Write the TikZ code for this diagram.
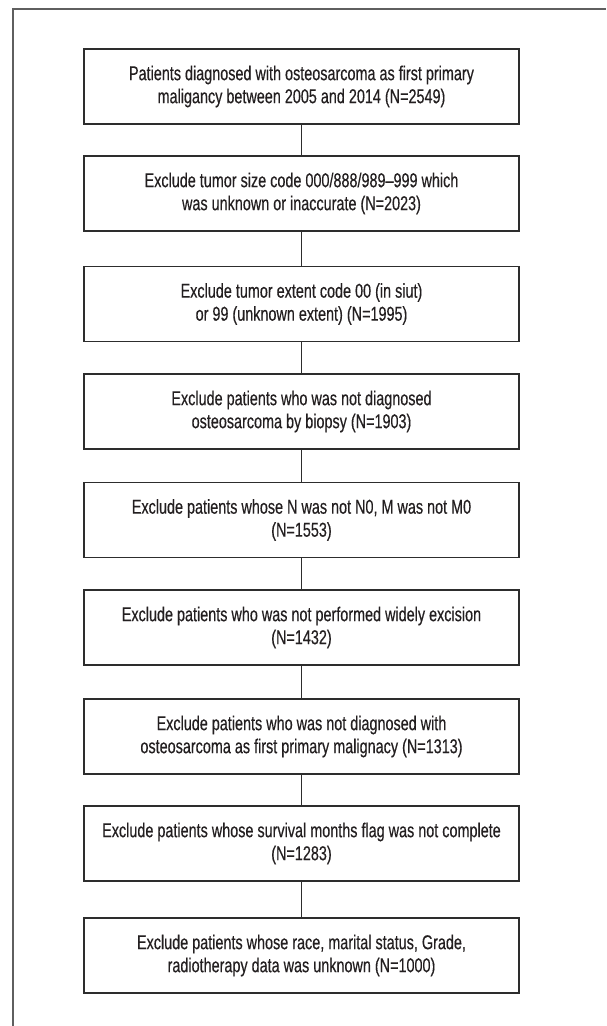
\documentclass[tikz,border=0pt]{standalone}
\usepackage{fontspec}
\setmainfont[FakeStretch=0.72,BoldFont={Liberation Sans},BoldFeatures={FakeBold=0.4}]{Liberation Sans}
\definecolor{framegray}{RGB}{95,95,95}
\definecolor{boxgray}{RGB}{45,45,45}
\definecolor{textgray}{RGB}{35,31,32}
\begin{document}
\begin{tikzpicture}[x=1pt,y=-1pt,
  stagebox/.style={draw=boxgray,line width=1.3pt,minimum width=435pt,minimum height=75pt,
    align=center,text=textgray,font=\fontsize{20}{23}\selectfont\bfseries,inner sep=0pt},
  link/.style={draw=boxgray,line width=1.1pt}]
\useasboundingbox (0,0) rectangle (606,1026);
\draw[framegray,line width=1.5pt](13,1026)--(13,9)--(606,9);

\node[stagebox] (s1) at (301.5,86.5){Patients diagnosed with osteosarcoma as first primary\\maligancy between 2005 and 2014 (N=2549)};
\node[stagebox] (s2) at (301.5,193.5){Exclude tumor size code 000/888/989--999 which\\was unknown or inaccurate (N=2023)};
\node[stagebox] (s3) at (301.5,304){Exclude tumor extent code 00 (in siut)\\or 99 (unknown extent) (N=1995)};
\node[stagebox] (s4) at (301.5,411.5){Exclude patients who was not diagnosed\\osteosarcoma by biopsy (N=1903)};
\node[stagebox] (s5) at (301.5,520){Exclude patients whose N was not N0, M was not M0\\(N=1553)};
\node[stagebox] (s6) at (301.5,627.5){Exclude patients who was not performed widely excision\\(N=1432)};
\node[stagebox] (s7) at (301.5,736.5){Exclude patients who was not diagnosed with\\osteosarcoma as first primary malignacy (N=1313)};
\node[stagebox] (s8) at (301.5,843.5){Exclude patients whose survival months flag was not complete\\(N=1283)};
\node[stagebox] (s9) at (301.5,955.5){Exclude patients whose race, marital status, Grade,\\radiotherapy data was unknown (N=1000)};

\draw[link](s1)--(s2);
\draw[link](s2)--(s3);
\draw[link](s3)--(s4);
\draw[link](s4)--(s5);
\draw[link](s5)--(s6);
\draw[link](s6)--(s7);
\draw[link](s7)--(s8);
\draw[link](s8)--(s9);
\end{tikzpicture}
\end{document}
